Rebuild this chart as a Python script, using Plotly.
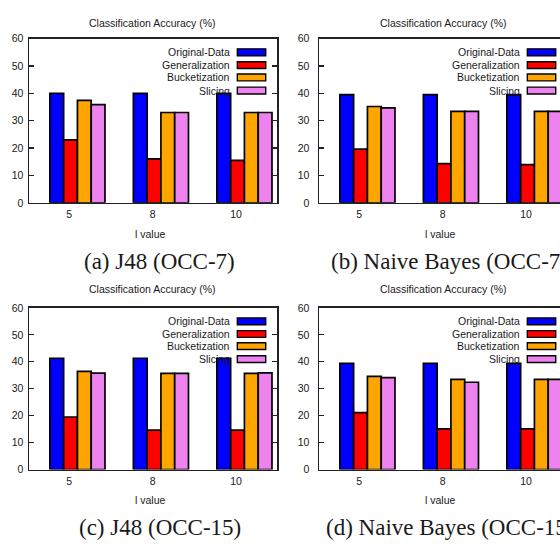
import plotly.graph_objects as go

# ---------------- data ----------------
l_values = ["5", "8", "10"]
series_names = ["Original-Data", "Generalization", "Bucketization", "Slicing"]
series_colors = ["#0000ff", "#ff0000", "#ffa500", "#ee82ee"]

# (a) J48 (OCC-7)
j48_occ7_original = [40.0, 40.0, 40.0]
j48_occ7_generalization = [23.0, 16.1, 15.5]
j48_occ7_bucketization = [37.4, 33.0, 33.0]
j48_occ7_slicing = [35.9, 33.0, 33.0]

# (b) Naive Bayes (OCC-7)
nb_occ7_original = [39.5, 39.5, 39.5]
nb_occ7_generalization = [19.6, 14.3, 14.0]
nb_occ7_bucketization = [35.2, 33.4, 33.4]
nb_occ7_slicing = [34.7, 33.4, 33.4]

# (c) J48 (OCC-15)
j48_occ15_original = [41.3, 41.3, 41.3]
j48_occ15_generalization = [19.5, 14.6, 14.6]
j48_occ15_bucketization = [36.4, 35.7, 35.7]
j48_occ15_slicing = [35.8, 35.7, 35.9]

# (d) Naive Bayes (OCC-15)
nb_occ15_original = [39.4, 39.4, 39.4]
nb_occ15_generalization = [21.1, 15.1, 15.1]
nb_occ15_bucketization = [34.6, 33.5, 33.5]
nb_occ15_slicing = [34.1, 32.4, 33.5]

captions = ["(a) J48 (OCC-7)", "(b) Naive Bayes (OCC-7)",
            "(c) J48 (OCC-15)", "(d) Naive Bayes (OCC-15)"]
panel_title = "Classification Accuracy (%)"
x_title = "l value"
y_ticks = [0, 10, 20, 30, 40, 50, 60]

panels = [
    [j48_occ7_original, j48_occ7_generalization, j48_occ7_bucketization, j48_occ7_slicing],
    [nb_occ7_original, nb_occ7_generalization, nb_occ7_bucketization, nb_occ7_slicing],
    [j48_occ15_original, j48_occ15_generalization, j48_occ15_bucketization, j48_occ15_slicing],
    [nb_occ15_original, nb_occ15_generalization, nb_occ15_bucketization, nb_occ15_slicing],
]

# ---------------- layout geometry (window pixels) ----------------
FW, FH = 560, 544


def px_x(px):
    return px / FW


def px_y(py):
    return 1 - py / FH


PX_PER_UNIT = 83.5
X0 = -0.58
col_left = [29, 319]
row_top = [33.3, 308.7]
row_bottom = [201.3, 474.0]
row_offset = [0, 272]

SANS = "Liberation Sans, Arial, Helvetica, sans-serif"
SERIF = "Liberation Serif, Times New Roman, serif"
TXT = "#1a1a1a"
AXC = "#222222"
FS = 10.5

positions = list(range(len(l_values)))

fig = go.Figure()
annotations = []
shapes = []

for p, series in enumerate(panels):
    r, c = divmod(p, 2)
    k = p + 1
    xa = "x" if k == 1 else f"x{k}"
    ya = "y" if k == 1 else f"y{k}"
    for name, color, vals in zip(series_names, series_colors, series):
        fig.add_trace(go.Bar(
            x=positions, y=vals, name=name, xaxis=xa, yaxis=ya,
            marker=dict(color=color, line=dict(color="black", width=1.7)),
            showlegend=False, hoverinfo="skip",
        ))

    left = col_left[c]
    right_px = min(left + 248, FW)
    x_range = [X0, X0 + (right_px - left) / PX_PER_UNIT]
    xdom = [px_x(left), min(1.0, px_x(right_px))]
    ydom = [px_y(row_bottom[r]), px_y(row_top[r])]

    fig.layout[f"xaxis{'' if k == 1 else k}"] = dict(
        domain=xdom, range=x_range, anchor=ya,
        tickvals=[pos - 0.1 for pos in positions], ticktext=l_values,
        ticks="", showline=True, linecolor=AXC, linewidth=1.5,
        mirror=True, showgrid=False, zeroline=False,
        tickfont=dict(family=SANS, size=FS, color=TXT),
        ticklabelstandoff=1,
    )
    fig.layout[f"yaxis{'' if k == 1 else k}"] = dict(
        domain=ydom, range=[0, 60], anchor=xa,
        tickvals=y_ticks, ticks="inside", ticklen=5, tickwidth=1.3,
        tickcolor=AXC, showline=True, linecolor=AXC, linewidth=1.5,
        mirror="ticks" if c == 0 else False, showgrid=False, zeroline=False,
        tickfont=dict(family=SANS, size=FS, color=TXT),
        ticklabelstandoff=2 if c == 0 else 6,
    )

    # panel title, x title, caption
    cx = left + 124
    off = row_offset[r]
    annotations.append(dict(text=panel_title, x=px_x(cx), y=px_y(17 + off),
                            xref="paper", yref="paper", showarrow=False,
                            xanchor="center", yanchor="middle",
                            font=dict(family=SANS, size=FS, color=TXT)))
    annotations.append(dict(text=x_title, x=px_x(left + 121), y=px_y(233.5 + off),
                            xref="paper", yref="paper", showarrow=False,
                            xanchor="center", yanchor="middle",
                            font=dict(family=SANS, size=FS, color=TXT)))
    annotations.append(dict(text=captions[p], x=px_x(159.5 + c * 290), y=px_y(261.5 + off),
                            xref="paper", yref="paper", showarrow=False,
                            xanchor="center", yanchor="middle",
                            font=dict(family=SERIF, size=23, color=TXT)))

    # key (text left of swatch, as in the original)
    key_y = [55.0, 50.3, 45.8, 41.0]
    for name, color, yy in zip(series_names, series_colors, key_y):
        annotations.append(dict(text=name, x=1.85, y=yy, xref=xa, yref=ya,
                                showarrow=False, xanchor="right", yanchor="middle",
                                font=dict(family=SANS, size=FS, color=TXT)))
        shapes.append(dict(type="rect", xref=xa, yref=ya,
                           x0=1.915, x1=2.255, y0=yy - 1.25, y1=yy + 1.25,
                           fillcolor=color, line=dict(color="black", width=1.4)))

fig.update_layout(
    width=FW, height=FH, margin=dict(l=0, r=0, t=0, b=0),
    paper_bgcolor="white", plot_bgcolor="white",
    barmode="group", bargap=0.34, bargroupgap=0.0,
    annotations=annotations, shapes=shapes,
    showlegend=False, hovermode=False,
)

# the page's default 8px body margin would push the 560x544 figure out of the window
fig.write_html(
    "out.html",
    config={"displayModeBar": False, "staticPlot": True},
    post_script=("document.body.style.margin='0';"
                 "document.body.style.overflow='hidden';"
                 "document.documentElement.style.overflow='hidden';"),
)
